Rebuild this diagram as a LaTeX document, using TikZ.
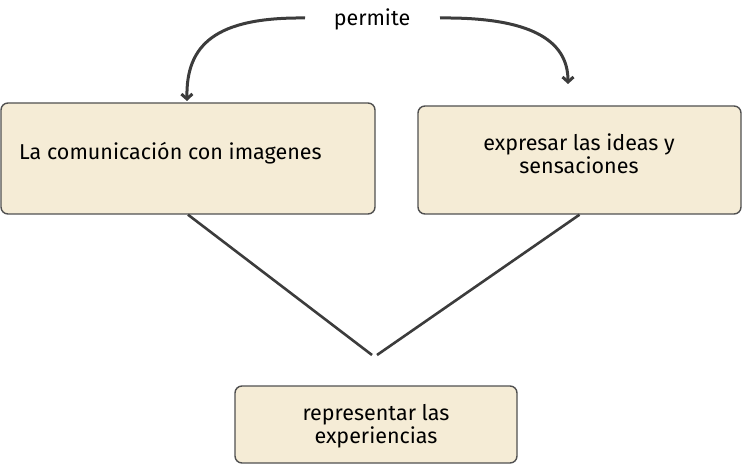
\documentclass[tikz,border=0pt]{standalone}
\usepackage{fontspec}
\setmainfont{Fira Sans}
\usetikzlibrary{arrows.meta}
\definecolor{boxfill}{HTML}{F5ECD6}
\definecolor{boxline}{HTML}{505050}
\definecolor{conn}{HTML}{3C3C3C}
\begin{document}
\begin{tikzpicture}[x=1pt,y=-1pt,
  txt/.style={font=\fontsize{21.5}{23}\selectfont},
  box/.style={draw=boxline,fill=boxfill,line width=1.4pt,rounded corners=7pt,inner sep=0pt},
  curvearrow/.style={draw=conn,line width=3pt,-{Straight Barb[length=5pt,width=11pt,line width=3pt]}},
  linkline/.style={draw=conn,line width=2.6pt}]
\useasboundingbox (0,0) rectangle (742,465);
\node[box,minimum width=374pt,minimum height=111pt] (L) at (188,158.5) {};
\node[txt,anchor=base west,inner sep=0pt] (Lt) at (19,160) {La comunicación con imagenes};
\node[box,minimum width=323pt,minimum height=108pt] (R) at (579.5,160) {};
\node[txt,align=center,inner sep=0pt] (Rt) at (579,154) {expresar las ideas y\\sensaciones};
\node[box,minimum width=282pt,minimum height=77pt] (B) at (376,424.5) {};
\node[txt,align=center,inner sep=0pt] (Bt) at (376,426) {representar las\\experiencias};
\node[txt,inner sep=0pt] (P) at (372,19) {permite};
\coordinate (a1) at (305,18);
\coordinate (a2) at (187,101);
\coordinate (b1) at (440,18);
\coordinate (b2) at (568,84);
\coordinate (m1) at (372,355);
\coordinate (m2) at (377,355);
\draw[curvearrow] (a1) .. controls (215,17) and (186,45) .. (a2);
\draw[curvearrow] (b1) .. controls (530,17) and (568,40) .. (b2);
\draw[linkline] (L.south) -- (m1);
\draw[linkline] (R.south) -- (m2);
\end{tikzpicture}
\end{document}
